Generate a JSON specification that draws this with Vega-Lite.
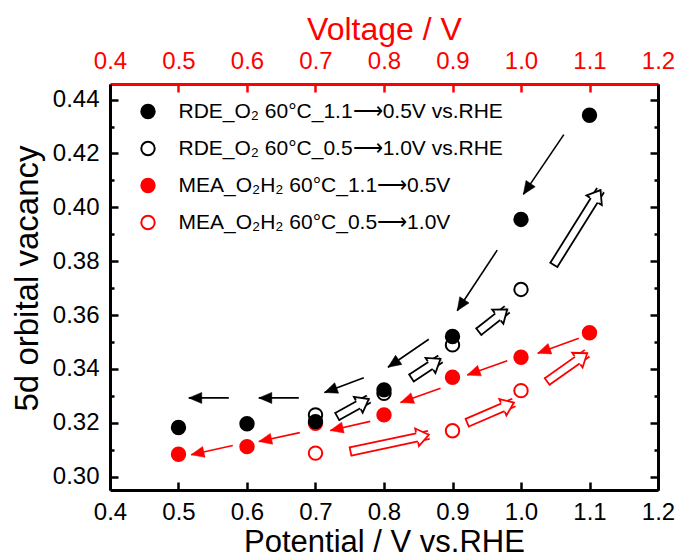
{
  "$schema": "https://vega.github.io/schema/vega-lite/v6.json",
  "width": 548,
  "height": 406,
  "autosize": {"type": "none"},
  "padding": {"left": 110, "top": 84, "right": 20, "bottom": 68},
  "background": "white",
  "config": {
    "view": {"stroke": null},
    "font": "Liberation Sans",
    "axis": {"grid": false, "labelFont": "Liberation Sans", "titleFont": "Liberation Sans", "titleFontWeight": "normal", "labelFlush": false, "labelOverlap": false}
  },
  "datasets": {
    "pts": [
      {"series": "MEA_O₂H₂ 60°C_0.5⟶1.0V", "x": 0.7, "y": 0.3087},
      {"series": "MEA_O₂H₂ 60°C_0.5⟶1.0V", "x": 0.9, "y": 0.3170},
      {"series": "MEA_O₂H₂ 60°C_0.5⟶1.0V", "x": 1.0, "y": 0.3319},
      {"series": "MEA_O₂H₂ 60°C_1.1⟶0.5V", "x": 0.5, "y": 0.3083},
      {"series": "MEA_O₂H₂ 60°C_1.1⟶0.5V", "x": 0.6, "y": 0.3111},
      {"series": "MEA_O₂H₂ 60°C_1.1⟶0.5V", "x": 0.7, "y": 0.3198},
      {"series": "MEA_O₂H₂ 60°C_1.1⟶0.5V", "x": 0.8, "y": 0.3229},
      {"series": "MEA_O₂H₂ 60°C_1.1⟶0.5V", "x": 0.9, "y": 0.3369},
      {"series": "MEA_O₂H₂ 60°C_1.1⟶0.5V", "x": 1.0, "y": 0.3443},
      {"series": "MEA_O₂H₂ 60°C_1.1⟶0.5V", "x": 1.1, "y": 0.3534},
      {"series": "RDE_O₂ 60°C_0.5⟶1.0V vs.RHE", "x": 0.7, "y": 0.3229},
      {"series": "RDE_O₂ 60°C_0.5⟶1.0V vs.RHE", "x": 0.8, "y": 0.3309},
      {"series": "RDE_O₂ 60°C_0.5⟶1.0V vs.RHE", "x": 0.9, "y": 0.3489},
      {"series": "RDE_O₂ 60°C_0.5⟶1.0V vs.RHE", "x": 1.0, "y": 0.3695},
      {"series": "RDE_O₂ 60°C_1.1⟶0.5V vs.RHE", "x": 0.5, "y": 0.3182},
      {"series": "RDE_O₂ 60°C_1.1⟶0.5V vs.RHE", "x": 0.6, "y": 0.3196},
      {"series": "RDE_O₂ 60°C_1.1⟶0.5V vs.RHE", "x": 0.7, "y": 0.3204},
      {"series": "RDE_O₂ 60°C_1.1⟶0.5V vs.RHE", "x": 0.8, "y": 0.3322},
      {"series": "RDE_O₂ 60°C_1.1⟶0.5V vs.RHE", "x": 0.9, "y": 0.3520},
      {"series": "RDE_O₂ 60°C_1.1⟶0.5V vs.RHE", "x": 1.0, "y": 0.3955},
      {"series": "RDE_O₂ 60°C_1.1⟶0.5V vs.RHE", "x": 1.1, "y": 0.4342}
    ],
    "thin": [
      {"series": "RDE_O₂ 60°C_1.1⟶0.5V vs.RHE", "x": 1.0625, "y": 0.4270, "x2": 1.0034, "y2": 0.4048},
      {"series": "RDE_O₂ 60°C_1.1⟶0.5V vs.RHE", "x": 0.9653, "y": 0.3841, "x2": 0.9069, "y2": 0.3616},
      {"series": "RDE_O₂ 60°C_1.1⟶0.5V vs.RHE", "x": 0.8654, "y": 0.3510, "x2": 0.8058, "y2": 0.3406},
      {"series": "RDE_O₂ 60°C_1.1⟶0.5V vs.RHE", "x": 0.7705, "y": 0.3367, "x2": 0.7131, "y2": 0.3312},
      {"series": "RDE_O₂ 60°C_1.1⟶0.5V vs.RHE", "x": 0.6756, "y": 0.3292, "x2": 0.6172, "y2": 0.3292},
      {"series": "RDE_O₂ 60°C_1.1⟶0.5V vs.RHE", "x": 0.5734, "y": 0.3292, "x2": 0.5150, "y2": 0.3292},
      {"series": "MEA_O₂H₂ 60°C_1.1⟶0.5V", "x": 1.0844, "y": 0.3514, "x2": 1.0244, "y2": 0.3458},
      {"series": "MEA_O₂H₂ 60°C_1.1⟶0.5V", "x": 0.9799, "y": 0.3430, "x2": 0.9215, "y2": 0.3377},
      {"series": "MEA_O₂H₂ 60°C_1.1⟶0.5V", "x": 0.8825, "y": 0.3328, "x2": 0.8241, "y2": 0.3275},
      {"series": "MEA_O₂H₂ 60°C_1.1⟶0.5V", "x": 0.7799, "y": 0.3205, "x2": 0.7215, "y2": 0.3171},
      {"series": "MEA_O₂H₂ 60°C_1.1⟶0.5V", "x": 0.6771, "y": 0.3163, "x2": 0.6172, "y2": 0.3130},
      {"series": "MEA_O₂H₂ 60°C_1.1⟶0.5V", "x": 0.5793, "y": 0.3115, "x2": 0.5184, "y2": 0.3081}
    ],
    "block": [
      {"series": "RDE_O₂ 60°C_0.5⟶1.0V vs.RHE", "x": 0.7317, "y": 0.3223, "x2": 0.7778, "y2": 0.3288},
      {"series": "RDE_O₂ 60°C_0.5⟶1.0V vs.RHE", "x": 0.8401, "y": 0.3366, "x2": 0.8825, "y2": 0.3437},
      {"series": "RDE_O₂ 60°C_0.5⟶1.0V vs.RHE", "x": 0.9384, "y": 0.3538, "x2": 0.9799, "y2": 0.3621},
      {"series": "RDE_O₂ 60°C_0.5⟶1.0V vs.RHE", "x": 1.0479, "y": 0.3786, "x2": 1.1161, "y2": 0.4064},
      {"series": "MEA_O₂H₂ 60°C_0.5⟶1.0V", "x": 0.7511, "y": 0.3093, "x2": 0.8654, "y2": 0.3155},
      {"series": "MEA_O₂H₂ 60°C_0.5⟶1.0V", "x": 0.9215, "y": 0.3200, "x2": 0.9896, "y2": 0.3275},
      {"series": "MEA_O₂H₂ 60°C_0.5⟶1.0V", "x": 1.0382, "y": 0.3353, "x2": 1.0966, "y2": 0.3458}
    ]
  },
  "resolve": {"axis": {"x": "independent", "y": "independent"}},
  "encoding": {
    "x": {"field": "x", "type": "quantitative", "scale": {"domain": [0.4, 1.2], "nice": false, "zero": false}, "axis": null},
    "y": {"field": "y", "type": "quantitative", "scale": {"domain": [0.295, 0.4458], "nice": false, "zero": false}, "axis": null},
    "stroke": {
      "field": "series", "type": "nominal",
      "scale": {"domain": ["RDE_O₂ 60°C_1.1⟶0.5V vs.RHE", "RDE_O₂ 60°C_0.5⟶1.0V vs.RHE", "MEA_O₂H₂ 60°C_1.1⟶0.5V", "MEA_O₂H₂ 60°C_0.5⟶1.0V"], "range": ["black", "black", "red", "red"]},
      "legend": {"title": null, "orient": "none", "legendX": 27.5, "legendY": 17, "padding": 0, "labelFontSize": 21, "labelFont": "Liberation Sans", "labelColor": "black", "symbolSize": 180, "symbolStrokeWidth": 2, "symbolType": "circle", "rowPadding": 14, "labelOffset": 20, "labelLimit": 0, "symbolOffset": 0}
    }
  },
  "layer": [
    {
      "data": {"name": "pts"},
      "mark": {"type": "point", "shape": "circle", "size": 180, "strokeWidth": 2, "opacity": 1, "filled": true},
      "encoding": {
        "x": {"field": "x", "type": "quantitative", "scale": {"domain": [0.4, 1.2], "nice": false, "zero": false},
          "axis": {"orient": "bottom", "values": [0.4, 0.5, 0.6, 0.7, 0.8, 0.9, 1.0, 1.1, 1.2], "format": ".1f", "title": "Potential / V vs.RHE", "titleFontSize": 31, "titleColor": "black", "titlePadding": 3, "labelFontSize": 24, "labelColor": "black", "labelPadding": 18.5, "tickSize": -8, "tickWidth": 2.5, "tickColor": "black", "domainColor": "black", "domainWidth": 3}},
        "y": {"field": "y", "type": "quantitative", "scale": {"domain": [0.295, 0.4458], "nice": false, "zero": false},
          "axis": {"orient": "left", "values": [0.30, 0.32, 0.34, 0.36, 0.38, 0.40, 0.42, 0.44], "format": ".2f", "title": "5d orbital vacancy", "titleFontSize": 33, "titleColor": "black", "titlePadding": 8, "titleY": 194, "labelFontSize": 24, "labelColor": "black", "labelPadding": 19, "tickSize": -8, "tickWidth": 2.5, "tickColor": "black", "domainColor": "black", "domainWidth": 3}},
        "fill": {
          "field": "series", "type": "nominal",
          "scale": {"domain": ["RDE_O₂ 60°C_1.1⟶0.5V vs.RHE", "RDE_O₂ 60°C_0.5⟶1.0V vs.RHE", "MEA_O₂H₂ 60°C_1.1⟶0.5V", "MEA_O₂H₂ 60°C_0.5⟶1.0V"], "range": ["black", "white", "red", "white"]},
          "legend": {"title": null, "orient": "none", "legendX": 27.5, "legendY": 17, "padding": 0, "labelFontSize": 21, "labelFont": "Liberation Sans", "labelColor": "black", "symbolSize": 180, "symbolStrokeWidth": 2, "symbolType": "circle", "rowPadding": 14, "labelOffset": 20, "labelLimit": 0, "symbolOffset": 0}
        }
      }
    },
    {
      "data": {"name": "thin"},
      "mark": {"type": "rule", "strokeWidth": 1.6},
      "encoding": {
        "x": {"field": "x", "type": "quantitative", "scale": {"domain": [0.4, 1.2], "nice": false, "zero": false},
          "axis": {"orient": "top", "values": [0.4, 0.5, 0.6, 0.7, 0.8, 0.9, 1.0, 1.1, 1.2], "format": ".1f", "title": "Voltage / V", "titleFontSize": 32, "titleColor": "red", "titlePadding": 3, "labelFontSize": 24, "labelColor": "red", "labelPadding": 19, "tickSize": -8, "tickWidth": 2.5, "tickColor": "red", "domainColor": "red", "domainWidth": 3}},
        "y": {"field": "y", "type": "quantitative", "scale": {"domain": [0.295, 0.4458], "nice": false, "zero": false},
          "axis": {"orient": "right", "values": [0.30, 0.32, 0.34, 0.36, 0.38, 0.40, 0.42, 0.44], "labels": false, "title": null, "tickSize": -8, "tickWidth": 2.5, "tickColor": "black", "domainColor": "black", "domainWidth": 3}},
        "x2": {"field": "x2"},
        "y2": {"field": "y2"}
      }
    },
    {
      "data": {"name": "thin"},
      "transform": [{"calculate": "atan2((datum.x2 - datum.x) * 685, (datum.y2 - datum.y) * 2692.3) * 180 / PI", "as": "ang"}],
      "mark": {"type": "point", "shape": "M0,0L-0.85,2L0.85,2Z", "size": 169, "filled": true, "opacity": 1, "strokeWidth": 0.5},
      "encoding": {
        "x": {"field": "x2", "type": "quantitative", "scale": {"domain": [0.4, 1.2], "nice": false, "zero": false}, "axis": null},
        "y": {"field": "y2", "type": "quantitative", "scale": {"domain": [0.295, 0.4458], "nice": false, "zero": false},
          "axis": {"orient": "left", "values": [0.31, 0.33, 0.35, 0.37, 0.39, 0.41, 0.43], "labels": false, "domain": false, "title": null, "tickSize": -4, "tickWidth": 2.5, "tickColor": "black"}},
        "angle": {"field": "ang", "type": "quantitative", "scale": null},
        "fill": {"field": "series", "type": "nominal", "scale": {"domain": ["RDE_O₂ 60°C_1.1⟶0.5V vs.RHE", "RDE_O₂ 60°C_0.5⟶1.0V vs.RHE", "MEA_O₂H₂ 60°C_1.1⟶0.5V", "MEA_O₂H₂ 60°C_0.5⟶1.0V"], "range": ["black", "white", "red", "white"]}, "legend": null}
      }
    },
    {
      "data": {"name": "block"},
      "mark": {"type": "rule", "strokeWidth": 10, "strokeCap": "butt"},
      "encoding": {
        "y": {"field": "y", "type": "quantitative", "scale": {"domain": [0.295, 0.4458], "nice": false, "zero": false},
          "axis": {"orient": "right", "values": [0.31, 0.33, 0.35, 0.37, 0.39, 0.41, 0.43], "labels": false, "domain": false, "title": null, "tickSize": -4, "tickWidth": 2.5, "tickColor": "black"}},
        "x2": {"field": "x2"},
        "y2": {"field": "y2"}
      }
    },
    {
      "data": {"name": "block"},
      "mark": {"type": "rule", "strokeWidth": 6.4, "strokeCap": "butt"},
      "encoding": {
        "x2": {"field": "x2"},
        "y2": {"field": "y2"},
        "stroke": {"value": "white"}
      }
    },
    {
      "data": {"name": "block"},
      "transform": [{"calculate": "atan2((datum.x2 - datum.x) * 685, (datum.y2 - datum.y) * 2692.3) * 180 / PI", "as": "ang"}],
      "mark": {"type": "point", "shape": "stroke", "size": 100, "strokeWidth": 1.8, "opacity": 1},
      "encoding": {
        "angle": {"field": "ang", "type": "quantitative", "scale": null}
      }
    },
    {
      "data": {"name": "block"},
      "transform": [{"calculate": "atan2((datum.x2 - datum.x) * 685, (datum.y2 - datum.y) * 2692.3) * 180 / PI", "as": "ang"}],
      "mark": {"type": "point", "shape": "M-0.83,2L-1.5,2L0,0L1.5,2L0.83,2", "size": 144, "filled": true, "opacity": 1, "strokeWidth": 1.8, "strokeJoin": "miter"},
      "encoding": {
        "x": {"field": "x2", "type": "quantitative", "scale": {"domain": [0.4, 1.2], "nice": false, "zero": false}, "axis": null},
        "y": {"field": "y2", "type": "quantitative", "scale": {"domain": [0.295, 0.4458], "nice": false, "zero": false}, "axis": null},
        "angle": {"field": "ang", "type": "quantitative", "scale": null},
        "fill": {"field": "series", "type": "nominal", "scale": {"domain": ["RDE_O₂ 60°C_1.1⟶0.5V vs.RHE", "RDE_O₂ 60°C_0.5⟶1.0V vs.RHE", "MEA_O₂H₂ 60°C_1.1⟶0.5V", "MEA_O₂H₂ 60°C_0.5⟶1.0V"], "range": ["black", "white", "red", "white"]}, "legend": null}
      }
    }
  ]
}
